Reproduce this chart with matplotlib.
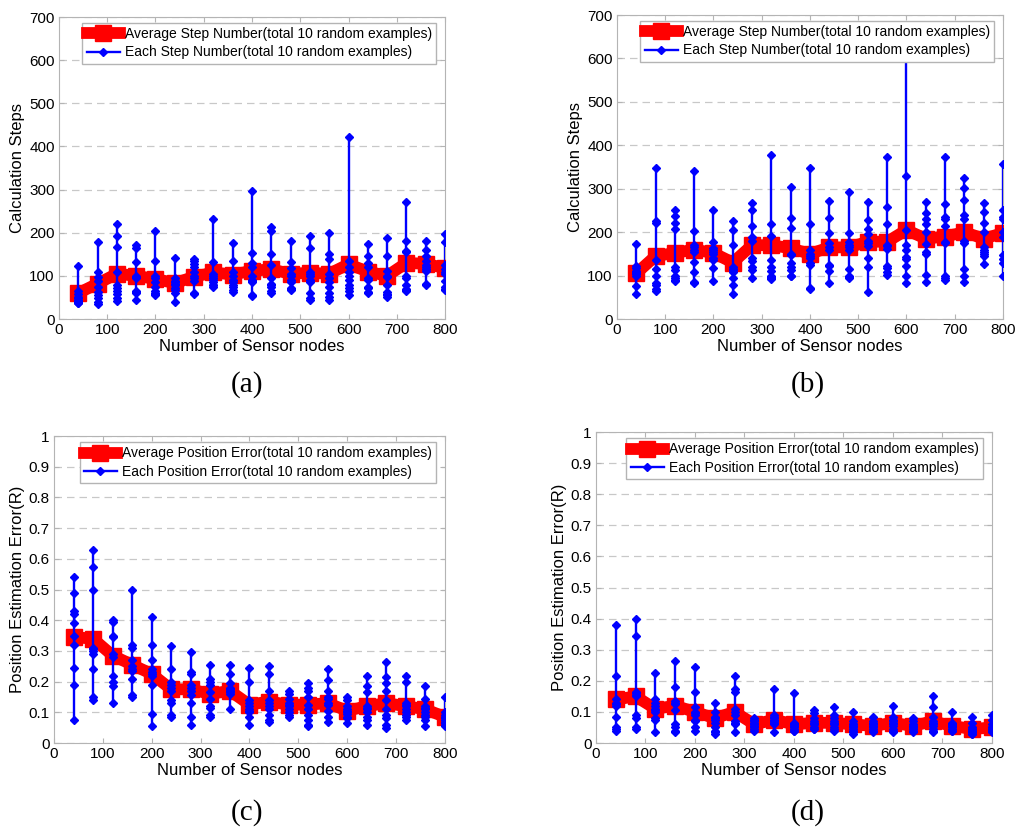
import matplotlib
matplotlib.use('Agg')
import matplotlib.pyplot as plt
import numpy as np

plt.rcParams['font.family'] = 'Liberation Sans'

# number of sensor nodes
nodes = [40, 80, 120, 160, 200, 240, 280, 320, 360, 400,
         440, 480, 520, 560, 600, 640, 680, 720, 760, 800]

# (a) calculation steps, 10 random examples per node count
steps_a = [
    [122, 65, 58, 52, 48, 45, 42, 40, 38, 36],
    [178, 108, 98, 88, 75, 62, 55, 48, 40, 35],
    [220, 192, 167, 110, 80, 72, 65, 58, 48, 42],
    [172, 165, 132, 100, 98, 95, 65, 62, 60, 45],
    [203, 135, 100, 95, 85, 75, 65, 60, 58, 55],
    [142, 95, 88, 85, 82, 78, 72, 68, 60, 40],
    [140, 135, 128, 120, 110, 100, 95, 88, 60, 57],
    [233, 132, 105, 100, 95, 90, 85, 80, 78, 75],
    [176, 135, 108, 100, 90, 85, 80, 75, 68, 63],
    [297, 153, 130, 120, 100, 90, 88, 85, 55, 53],
    [213, 205, 150, 125, 95, 82, 80, 75, 65, 60],
    [182, 132, 118, 105, 100, 90, 85, 72, 70, 68],
    [193, 165, 110, 105, 100, 90, 85, 60, 48, 45],
    [200, 150, 140, 105, 95, 85, 75, 60, 50, 45],
    [423, 135, 120, 110, 100, 90, 80, 72, 65, 55],
    [175, 145, 130, 120, 95, 90, 75, 72, 62, 60],
    [187, 147, 112, 100, 98, 78, 62, 58, 55, 52],
    [272, 180, 158, 155, 100, 95, 80, 70, 68, 65],
    [182, 160, 145, 135, 125, 120, 115, 112, 82, 80],
    [197, 178, 125, 115, 110, 105, 88, 75, 70, 68],
]
avg_a = [60, 82, 105, 100, 93, 83, 98, 108, 103, 112,
         115, 105, 107, 105, 127, 110, 100, 130, 128, 118]

# (b) calculation steps
steps_b = [
    [172, 122, 118, 110, 108, 106, 104, 100, 75, 57],
    [347, 225, 222, 135, 115, 98, 82, 78, 68, 65],
    [252, 237, 220, 207, 120, 112, 100, 95, 90, 88],
    [340, 202, 170, 165, 160, 155, 132, 108, 85, 82],
    [252, 177, 163, 160, 155, 150, 140, 135, 118, 88],
    [225, 205, 170, 120, 115, 112, 108, 95, 78, 57],
    [267, 250, 215, 190, 180, 140, 133, 120, 112, 95],
    [377, 218, 192, 135, 120, 110, 100, 97, 95, 92],
    [305, 233, 210, 150, 148, 130, 120, 112, 100, 98],
    [348, 218, 158, 150, 145, 140, 130, 125, 72, 70],
    [272, 233, 198, 175, 165, 160, 125, 122, 110, 82],
    [293, 197, 178, 170, 165, 160, 115, 100, 97, 95],
    [270, 228, 208, 195, 180, 175, 168, 140, 120, 63],
    [373, 258, 218, 170, 168, 162, 123, 118, 108, 102],
    [640, 330, 205, 170, 160, 143, 138, 122, 98, 82],
    [270, 243, 230, 218, 200, 172, 155, 150, 102, 85],
    [372, 265, 235, 230, 215, 178, 175, 100, 95, 90],
    [325, 302, 273, 240, 230, 180, 175, 115, 100, 85],
    [267, 247, 220, 200, 165, 160, 155, 150, 145, 127],
    [358, 250, 235, 230, 200, 190, 148, 138, 130, 98],
]
avg_b = [105, 145, 152, 160, 152, 130, 170, 170, 163, 150,
         165, 165, 178, 178, 205, 185, 190, 200, 185, 198]

# (c) position estimation error
err_c = [
    [0.54, 0.49, 0.43, 0.42, 0.39, 0.35, 0.32, 0.245, 0.19, 0.075],
    [0.63, 0.575, 0.50, 0.31, 0.305, 0.30, 0.29, 0.24, 0.15, 0.14],
    [0.40, 0.395, 0.35, 0.345, 0.29, 0.28, 0.22, 0.20, 0.185, 0.13],
    [0.50, 0.32, 0.31, 0.27, 0.25, 0.24, 0.235, 0.21, 0.155, 0.15],
    [0.41, 0.32, 0.27, 0.24, 0.23, 0.225, 0.22, 0.19, 0.095, 0.055],
    [0.315, 0.24, 0.20, 0.19, 0.18, 0.17, 0.14, 0.13, 0.09, 0.085],
    [0.295, 0.23, 0.225, 0.19, 0.18, 0.17, 0.155, 0.13, 0.085, 0.06],
    [0.255, 0.21, 0.20, 0.19, 0.165, 0.145, 0.12, 0.115, 0.09, 0.085],
    [0.255, 0.225, 0.195, 0.18, 0.175, 0.17, 0.17, 0.165, 0.16, 0.11],
    [0.245, 0.20, 0.14, 0.13, 0.12, 0.11, 0.105, 0.10, 0.085, 0.06],
    [0.25, 0.225, 0.17, 0.14, 0.13, 0.12, 0.11, 0.09, 0.075, 0.07],
    [0.17, 0.16, 0.145, 0.13, 0.125, 0.12, 0.11, 0.10, 0.09, 0.085],
    [0.195, 0.18, 0.17, 0.15, 0.125, 0.11, 0.09, 0.075, 0.06, 0.055],
    [0.24, 0.205, 0.17, 0.15, 0.145, 0.13, 0.125, 0.105, 0.085, 0.07],
    [0.15, 0.14, 0.12, 0.11, 0.105, 0.10, 0.095, 0.085, 0.08, 0.065],
    [0.22, 0.185, 0.165, 0.12, 0.115, 0.11, 0.10, 0.085, 0.075, 0.06],
    [0.265, 0.215, 0.195, 0.17, 0.14, 0.11, 0.09, 0.08, 0.06, 0.05],
    [0.22, 0.20, 0.13, 0.125, 0.12, 0.11, 0.10, 0.09, 0.085, 0.075],
    [0.185, 0.145, 0.12, 0.115, 0.11, 0.10, 0.09, 0.085, 0.075, 0.055],
    [0.15, 0.10, 0.09, 0.085, 0.08, 0.075, 0.07, 0.065, 0.06, 0.055],
]
avg_c = [0.345, 0.34, 0.285, 0.255, 0.225, 0.175, 0.175, 0.16, 0.17, 0.125,
         0.135, 0.125, 0.125, 0.13, 0.105, 0.12, 0.13, 0.12, 0.11, 0.085]

# (d) position estimation error
err_d = [
    [0.38, 0.215, 0.14, 0.13, 0.125, 0.12, 0.085, 0.05, 0.045, 0.04],
    [0.40, 0.345, 0.165, 0.16, 0.155, 0.15, 0.09, 0.08, 0.05, 0.045],
    [0.225, 0.14, 0.13, 0.12, 0.11, 0.105, 0.10, 0.08, 0.075, 0.035],
    [0.265, 0.18, 0.135, 0.13, 0.125, 0.105, 0.06, 0.05, 0.04, 0.035],
    [0.245, 0.165, 0.115, 0.10, 0.095, 0.09, 0.075, 0.07, 0.05, 0.04],
    [0.13, 0.10, 0.085, 0.08, 0.075, 0.065, 0.05, 0.04, 0.035, 0.03],
    [0.215, 0.175, 0.165, 0.11, 0.10, 0.09, 0.07, 0.065, 0.06, 0.035],
    [0.08, 0.075, 0.07, 0.065, 0.06, 0.06, 0.055, 0.05, 0.045, 0.04],
    [0.175, 0.09, 0.085, 0.08, 0.075, 0.07, 0.07, 0.065, 0.06, 0.035],
    [0.16, 0.065, 0.06, 0.06, 0.055, 0.055, 0.05, 0.045, 0.04, 0.04],
    [0.105, 0.095, 0.08, 0.07, 0.065, 0.06, 0.06, 0.05, 0.045, 0.045],
    [0.115, 0.09, 0.08, 0.07, 0.065, 0.06, 0.06, 0.05, 0.045, 0.04],
    [0.10, 0.07, 0.06, 0.06, 0.055, 0.05, 0.045, 0.04, 0.035, 0.03],
    [0.085, 0.07, 0.065, 0.06, 0.055, 0.055, 0.05, 0.045, 0.04, 0.035],
    [0.12, 0.085, 0.075, 0.07, 0.065, 0.06, 0.055, 0.045, 0.04, 0.035],
    [0.08, 0.07, 0.06, 0.055, 0.055, 0.05, 0.05, 0.045, 0.04, 0.035],
    [0.15, 0.115, 0.085, 0.07, 0.065, 0.06, 0.055, 0.045, 0.04, 0.035],
    [0.10, 0.065, 0.06, 0.06, 0.055, 0.055, 0.05, 0.045, 0.04, 0.04],
    [0.085, 0.065, 0.05, 0.045, 0.045, 0.04, 0.04, 0.035, 0.03, 0.03],
    [0.09, 0.075, 0.06, 0.05, 0.05, 0.045, 0.045, 0.04, 0.04, 0.035],
]
avg_d = [0.14, 0.15, 0.11, 0.12, 0.10, 0.08, 0.10, 0.06, 0.075, 0.06,
         0.065, 0.065, 0.06, 0.055, 0.065, 0.055, 0.07, 0.055, 0.045, 0.05]

GRAY = '#b4b4b4'


def draw_panel(ax, each, avg, ymax, yticks, ylabel, avg_label, each_label):
    for n, vals in zip(nodes, each):
        line_each, = ax.plot([n] * len(vals), vals, color='blue', lw=1.7,
                             marker='D', ms=4, mfc='blue', mec='blue',
                             zorder=4)
    line_avg, = ax.plot(nodes, avg, color='red', lw=8.5, marker='s', ms=11,
                        mfc='red', mec='red', zorder=3)
    ax.set_xlim(0, 800)
    ax.set_ylim(0, ymax)
    ax.set_xticks(range(0, 801, 100))
    ax.set_yticks(yticks)
    ax.yaxis.grid(True, ls=(0, (6, 4)), color='#c8c8c8', lw=0.9)
    ax.set_axisbelow(True)
    for sp in ax.spines.values():
        sp.set_color(GRAY)
    ax.tick_params(direction='in', top=True, right=True, color=GRAY,
                   labelsize=11, length=3.5, pad=3)
    ax.set_xlabel('Number of Sensor nodes', fontsize=12, labelpad=1)
    ax.set_ylabel(ylabel, fontsize=12, labelpad=3)
    leg = ax.legend([line_avg, line_each], [avg_label, each_label],
                    loc='upper right', bbox_to_anchor=(0.977, 0.98),
                    borderaxespad=0, fancybox=False, framealpha=1,
                    edgecolor=GRAY, fontsize=10, handlelength=2.4,
                    handletextpad=0.35, labelspacing=0.3, borderpad=0.3)
    leg.set_zorder(10)


fig = plt.figure(figsize=(10.24, 8.36), dpi=100)

ax_a = fig.add_axes([0.0576, 0.6184, 0.377, 0.3612])
ax_b = fig.add_axes([0.6025, 0.6184, 0.377, 0.3636])
ax_c = fig.add_axes([0.0527, 0.1112, 0.3818, 0.3672])
ax_d = fig.add_axes([0.582, 0.1112, 0.3867, 0.372])

draw_panel(ax_a, steps_a, avg_a, 700, range(0, 701, 100), 'Calculation Steps',
           'Average Step Number(total 10 random examples)',
           'Each Step Number(total 10 random examples)')
draw_panel(ax_b, steps_b, avg_b, 700, range(0, 701, 100), 'Calculation Steps',
           'Average Step Number(total 10 random examples)',
           'Each Step Number(total 10 random examples)')
err_ticks = np.round(np.arange(0, 1.01, 0.1), 1)
draw_panel(ax_c, err_c, avg_c, 1, err_ticks, 'Position Estimation Error(R)',
           'Average Position Error(total 10 random examples)',
           'Each Position Error(total 10 random examples)')
draw_panel(ax_d, err_d, avg_d, 1, err_ticks, 'Position Estimation Error(R)',
           'Average Position Error(total 10 random examples)',
           'Each Position Error(total 10 random examples)')
for ax in (ax_c, ax_d):
    ax.set_yticklabels(['0'] + ['%.1f' % t for t in err_ticks[1:-1]] + ['1'])

for label, x, y in [('(a)', 247, 385), ('(b)', 808, 385),
                    ('(c)', 247, 813), ('(d)', 808, 813)]:
    fig.text(x / 1024, 1 - y / 836, label, ha='center', va='center',
             fontsize=21, family='Liberation Serif')

fig.savefig('out.png', dpi=100)
